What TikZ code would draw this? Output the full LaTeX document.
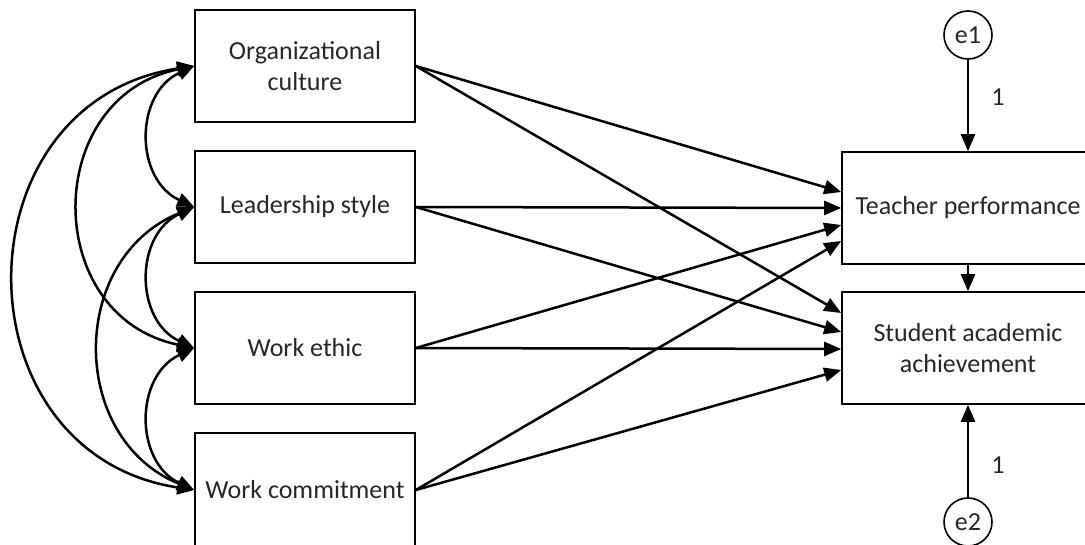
\documentclass[tikz,border=0pt]{standalone}
\usepackage{fontspec}
\setmainfont{Carlito}
\usetikzlibrary{arrows.meta,calc}
\begin{document}
\begin{tikzpicture}[x=1pt,y=-1pt,
  box/.style={draw, line width=1.6pt, minimum width=220pt, minimum height=112pt, align=center, inner sep=0pt, font=\fontsize{26}{31.5}\selectfont, text=black!85},
  rbox/.style={box, minimum width=252pt},
  err/.style={draw, circle, line width=1.6pt, minimum size=48pt, inner sep=0pt, font=\fontsize{26}{30}\selectfont, text=black!85},
  tip/.style={Triangle[length=17pt,width=14pt]},
  arr/.style={line width=2.5pt, -{Triangle[length=17pt,width=14pt]}},
  cov/.style={line width=2.5pt, {Triangle[length=17pt,width=14pt]}-{Triangle[length=17pt,width=14pt]}},
  lbl/.style={font=\fontsize{26}{30}\selectfont, text=black!85}]
\useasboundingbox (0,0) rectangle (1085,545);
\clip (0,0) rectangle (1085,545);
% left boxes
\node[box] (oc) at (305,66) {Organizational\\culture};
\node[box] (ls) at (305,207) {Leadership style};
\node[box] (we) at (305,348) {Work ethic};
\node[box, minimum height=114pt] (wc) at (305,490) {Work commitment};
% right boxes
\node[rbox] (tp) at (968,208) {Teacher performance};
\node[rbox] (sa) at (968,348) {Student academic\\achievement};
% errors
\node[err] (e1) at (968,35) {e1};
\node[err] (e2) at (968,522) {e2};
\node[lbl] (l1) at (998,97) {1};
\node[lbl] (l2) at (998,465) {1};
% error paths
\draw[arr] (e1.south) -- (tp.north);
\draw[arr] (tp.south) -- (sa.north);
\draw[arr] (e2.north) -- (sa.south);
% covariances
\draw[cov] (oc.west) to[out=205,in=155,looseness=1.2] (ls.west);
\draw[cov] (oc.west) to[out=191.6,in=168.4,looseness=1.42] (we.west);
\draw[cov] (oc.west) to[out=188.7,in=171.3,looseness=1.46] (wc.west);
\draw[cov] (ls.west) to[out=205,in=155,looseness=1.2] (we.west);
\draw[cov] (ls.west) to[out=202.3,in=157.7,looseness=1.234] (wc.west);
\draw[cov] (we.west) to[out=205.2,in=154.8,looseness=1.194] (wc.west);
% regressions
\draw[arr] (oc.east) -- ($(tp.west)+(0,-16)$);
\draw[arr] (oc.east) -- ($(sa.west)+(0,-35)$);
\draw[arr] (ls.east) -- (tp.west);
\draw[arr] (ls.east) -- ($(sa.west)+(0,-16)$);
\draw[arr] (we.east) -- ($(tp.west)+(0,17)$);
\draw[arr] (we.east) -- ($(sa.west)+(0,1)$);
\draw[arr] (wc.east) -- ($(tp.west)+(0,33)$);
\draw[arr] (wc.east) -- ($(sa.west)+(0,22)$);
\end{tikzpicture}
\end{document}
